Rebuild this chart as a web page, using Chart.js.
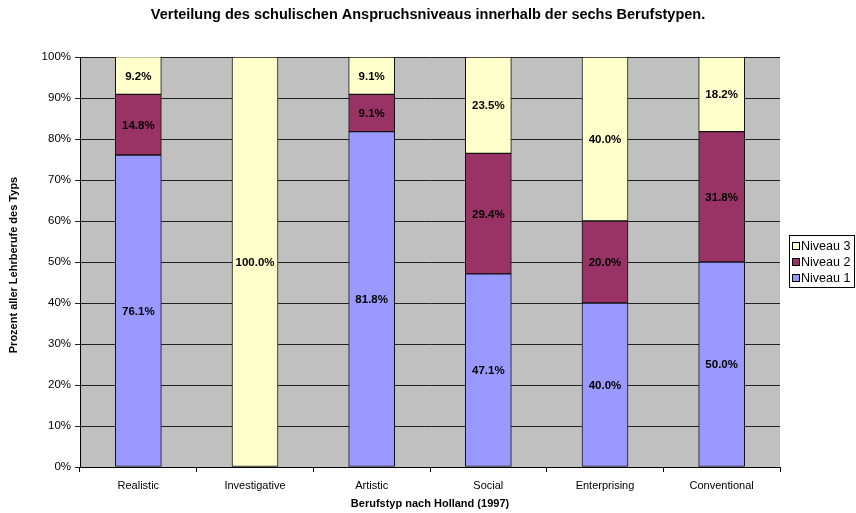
<!DOCTYPE html>
<html>
<head>
<meta charset="utf-8">
<script src="https://cdn.jsdelivr.net/npm/chart.js@4/dist/chart.umd.min.js"></script>
<style>
html,body{margin:0;padding:0;background:#fff;}
#wrap{width:856px;height:513px;position:relative;}
</style>
</head>
<body>
<div id="wrap"><canvas id="c" width="856" height="513"></canvas></div>
<script>
const categories = ["Realistic", "Investigative", "Artistic", "Social", "Enterprising", "Conventional"];
const niveau1 = [76.1, 0, 81.8, 47.1, 40.0, 50.0];
const niveau2 = [14.8, 0, 9.1, 29.4, 20.0, 31.8];
const niveau3 = [9.2, 100.0, 9.1, 23.5, 40.0, 18.2];
const seriesNames = ["Niveau 1", "Niveau 2", "Niveau 3"];
const seriesColors = ["#9999FF", "#993366", "#FFFFCC"];
const titleText = "Verteilung des schulischen Anspruchsniveaus innerhalb der sechs Berufstypen.";
const xTitle = "Berufstyp nach Holland (1997)";
const yTitle = "Prozent aller Lehrberufe des Typs";

const FONT = "'Liberation Sans', Arial, sans-serif";

const bgPlugin = {
  id: 'bg',
  beforeDraw(chart) {
    const a = chart.chartArea, ctx = chart.ctx;
    ctx.save();
    ctx.fillStyle = '#C0C0C0';
    ctx.fillRect(a.left, a.top, a.right - a.left, a.bottom - a.top);
    ctx.restore();
  }
};

const labelPlugin = {
  id: 'labels',
  afterDatasetsDraw(chart) {
    const ctx = chart.ctx;
    ctx.save();
    ctx.font = "bold 11.5px " + FONT;
    ctx.fillStyle = '#000';
    ctx.textAlign = 'center';
    ctx.textBaseline = 'middle';
    chart.data.datasets.forEach((ds, di) => {
      const meta = chart.getDatasetMeta(di);
      meta.data.forEach((bar, i) => {
        const v = ds.data[i];
        if (!v) return;
        const p = bar.getProps(['x', 'y', 'base'], true);
        const top = Math.max(p.y, chart.chartArea.top);
        ctx.fillText(v.toFixed(1) + '%', p.x, (top + p.base) / 2 + 1);
      });
    });
    ctx.restore();
  }
};

const textPlugin = {
  id: 'texts',
  afterDraw(chart) {
    const ctx = chart.ctx;
    ctx.save();
    ctx.fillStyle = '#000';
    ctx.textAlign = 'center';
    ctx.textBaseline = 'middle';
    ctx.font = "bold 14.5px " + FONT;
    ctx.fillText(titleText, 428, 15);
    ctx.font = "bold 11px " + FONT;
    ctx.fillText(xTitle, 430, 504);
    ctx.translate(14, 265);
    ctx.rotate(-Math.PI / 2);
    ctx.fillText(yTitle, 0, 0);
    ctx.restore();

    // legend
    ctx.save();
    const lx = 789.5, ly = 235.5, lw = 65, lh = 52;
    ctx.fillStyle = '#fff';
    ctx.fillRect(lx, ly, lw, lh);
    ctx.strokeStyle = '#000';
    ctx.lineWidth = 1;
    ctx.strokeRect(lx, ly, lw, lh);
    ctx.font = "12.5px " + FONT;
    ctx.textAlign = 'left';
    ctx.textBaseline = 'middle';
    const order = [2, 1, 0];
    order.forEach((si, k) => {
      const cy = 246 + k * 16;
      ctx.fillStyle = seriesColors[si];
      ctx.fillRect(792.5, cy - 3.5, 7, 7);
      ctx.strokeStyle = '#000';
      ctx.strokeRect(792.5, cy - 3.5, 7, 7);
      ctx.fillStyle = '#000';
      ctx.fillText(seriesNames[si], 801, cy + 0.5);
    });
    ctx.restore();
  }
};

const datasets = [niveau1, niveau2, niveau3].map((d, i) => ({
  label: seriesNames[i],
  data: d,
  backgroundColor: seriesColors[i],
  borderColor: '#111',
  borderWidth: 1,
  borderSkipped: false,
  barThickness: 46,
}));

new Chart(document.getElementById('c'), {
  type: 'bar',
  data: { labels: categories, datasets },
  options: {
    responsive: false,
    animation: false,
    devicePixelRatio: 1,
    layout: { padding: { top: 57, right: 76, left: 0, bottom: 0 } },
    plugins: {
      legend: { display: false },
      title: { display: false },
      tooltip: { enabled: false }
    },
    scales: {
      x: {
        stacked: true,
        grid: { offset: true, drawOnChartArea: false, drawTicks: true, tickLength: 5, color: '#000' },
        border: { display: true, color: '#000', width: 1 },
        ticks: { color: '#000', font: { family: FONT, size: 11 }, padding: 7, maxRotation: 0 },
        afterFit(s) { s.height = 46; }
      },
      y: {
        stacked: true,
        min: 0, max: 100,
        grid: { color: '#222', lineWidth: 1, tickLength: 5, drawTicks: true },
        border: { display: true, color: '#000', width: 1 },
        ticks: { stepSize: 10, color: '#000', font: { family: FONT, size: 11.5 }, padding: 4,
          callback: v => v + '%' },
        afterFit(s) { s.width = 80; }
      }
    }
  },
  plugins: [bgPlugin, labelPlugin, textPlugin]
});
</script>
</body>
</html>
